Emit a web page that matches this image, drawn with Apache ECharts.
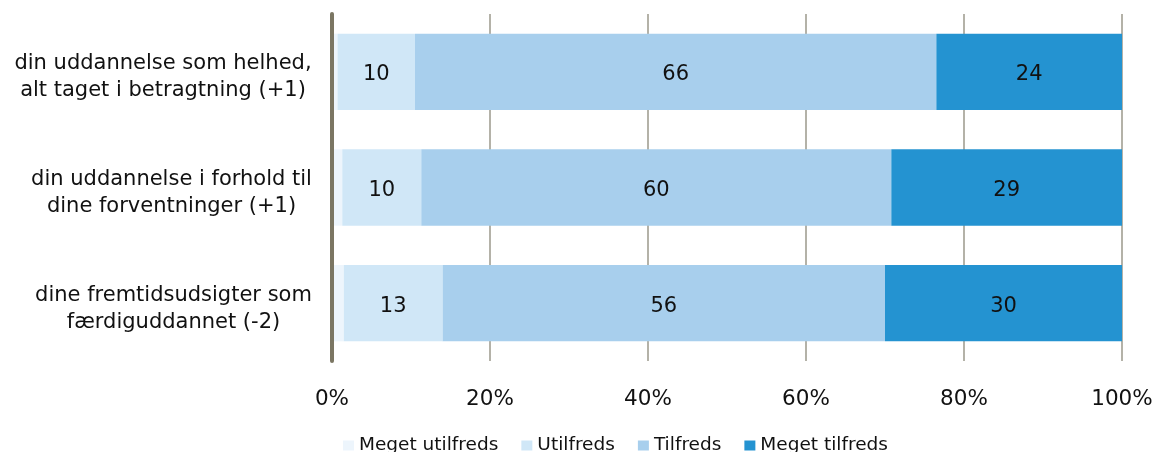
<!DOCTYPE html>
<html>
<head>
<meta charset="utf-8">
<script src="https://cdn.jsdelivr.net/npm/echarts@6/dist/echarts.min.js"></script>
<style>html,body{margin:0;padding:0;background:#fff}#c{width:1157px;height:452px}</style>
</head>
<body>
<div id="c"></div>
<script>
// Data
const categories = [
  "din uddannelse som helhed,\nalt taget i betragtning (+1)",
  "din uddannelse i forhold til\ndine forventninger (+1)",
  "dine fremtidsudsigter som\nfærdiguddannet (-2)"
];
const seriesNames = ["Meget utilfreds", "Utilfreds", "Tilfreds", "Meget tilfreds"];
const megetUtilfreds = [0.7, 1.3, 1.5];
const utilfreds = [9.8, 10.0, 12.5];
const tilfreds = [66.0, 59.5, 56.0];
const megetTilfreds = [23.5, 29.2, 30.0];
const xTicks = [0, 20, 40, 60, 80, 100];

const FONT = '"DejaVu Sans", Verdana, sans-serif';
const colors = ['#edf5fc', '#d0e7f7', '#a8cfed', '#2493d1'];
const txt = '#111111';
const catSize = 21;

// measure label widths so lines center inside a right-aligned block
const cv = document.createElement('canvas').getContext('2d');
cv.font = catSize + 'px "DejaVu Sans"';
const rich = {};
categories.forEach((c, i) => {
  const w = Math.max(...c.split('\n').map(s => cv.measureText(s).width));
  rich['r' + i] = { width: Math.ceil(w), align: 'center', fontSize: catSize, lineHeight: 27, color: txt, fontFamily: FONT };
});

const values = [megetUtilfreds, utilfreds, tilfreds, megetTilfreds];
const chart = echarts.init(document.getElementById('c'), null, { renderer: 'canvas' });
chart.setOption({
  animation: false,
  textStyle: { fontFamily: FONT },
  grid: { left: 332, right: 35, top: 14, bottom: 91 },
  xAxis: {
    type: 'value', min: xTicks[0], max: xTicks[xTicks.length - 1], interval: 20,
    axisLine: { show: false }, axisTick: { show: false },
    splitLine: { show: true, lineStyle: { color: '#b4b2a8', width: 2 } },
    axisLabel: { formatter: '{value}%', fontSize: 21.5, color: txt, margin: 27, fontFamily: FONT }
  },
  yAxis: {
    type: 'category', inverse: true, data: categories, z: 10,
    axisLine: { show: true, lineStyle: { color: '#7b7663', width: 4 } },
    axisTick: { show: false },
    axisLabel: {
      align: 'right', margin: 20, padding: [11, 0, 0, 0],
      formatter: (v, i) => v.split('\n').map(s => '{r' + i + '|' + s + '}').join('\n'),
      rich: rich
    }
  },
  legend: {
    data: seriesNames, left: 338, top: 431, icon: 'rect', itemWidth: 11, itemHeight: 10,
    itemGap: 23, textStyle: { fontSize: 18.5, color: txt, fontFamily: FONT }
  },
  series: seriesNames.map((n, k) => ({
    name: n, type: 'bar', stack: 'total', data: values[k], barWidth: '66%',
    itemStyle: { color: colors[k] },
    label: {
      show: k > 0, position: 'inside', fontSize: 21, color: txt, fontFamily: FONT, offset: [0, 3],
      formatter: p => Math.round(p.value)
    }
  }))
});
</script>
</body>
</html>
